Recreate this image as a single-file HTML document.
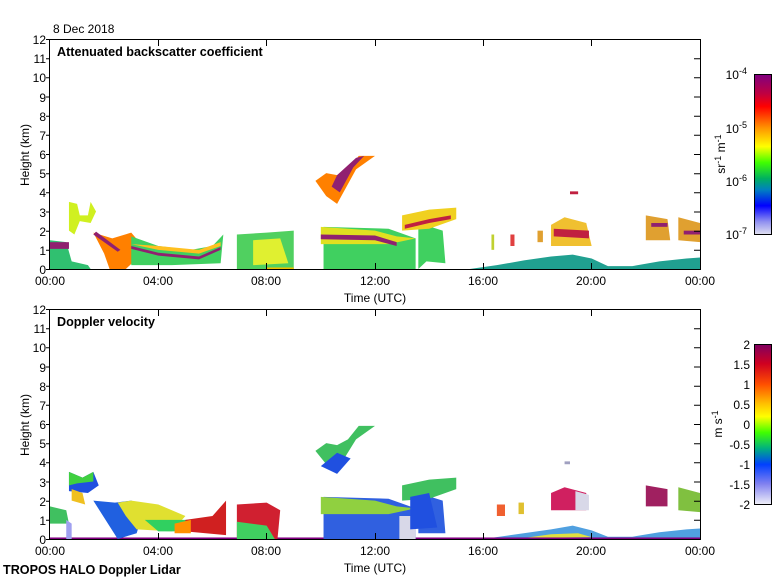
<!DOCTYPE html>
<html><head><meta charset="utf-8"><style>
body{margin:0;background:#fff;}
svg{display:block;font-family:"Liberation Sans",sans-serif;}
</style></head><body>
<svg width="780" height="580" viewBox="0 0 780 580">
<defs>
<linearGradient id="cb1" x1="0" y1="0" x2="0" y2="1">
<stop offset="0" stop-color="#800080"/><stop offset="0.12" stop-color="#c00040"/><stop offset="0.2" stop-color="#ff0000"/><stop offset="0.33" stop-color="#ff9000"/><stop offset="0.45" stop-color="#ffff00"/><stop offset="0.55" stop-color="#40ff00"/><stop offset="0.65" stop-color="#00b060"/><stop offset="0.72" stop-color="#0080c0"/><stop offset="0.82" stop-color="#0000ff"/><stop offset="0.92" stop-color="#9090f0"/><stop offset="1" stop-color="#e0e0f0"/>
</linearGradient>
<linearGradient id="cb2" x1="0" y1="0" x2="0" y2="1">
<stop offset="0" stop-color="#800060"/><stop offset="0.12" stop-color="#d00020"/><stop offset="0.25" stop-color="#ff5000"/><stop offset="0.37" stop-color="#ffc000"/><stop offset="0.45" stop-color="#ffff00"/><stop offset="0.55" stop-color="#40ff00"/><stop offset="0.65" stop-color="#00b080"/><stop offset="0.75" stop-color="#0040ff"/><stop offset="0.87" stop-color="#8080f0"/><stop offset="1" stop-color="#f0f0f8"/>
</linearGradient>
</defs>

<text x="53" y="33" font-size="12">8 Dec 2018</text>

<!-- TOP PANEL DATA -->
<g transform="translate(50,269) scale(27.083,-19.167)">
<polygon fill="#20a090" points="15.5,0 16.5,0.2 17.5,0.45 18.5,0.65 19.3,0.75 20,0.55 20.6,0.15 21.5,0.15 22.5,0.4 23.5,0.55 24,0.6 24,0"/>
<polygon fill="#30c070" points="0,0 0,1.5 0.6,1.4 0.8,0.4 1.4,0.2 1.5,0"/>
<rect x="0" y="1.05" width="0.7" height="0.35" fill="#902070"/>
<polygon fill="#d0f020" points="0.7,2 0.7,3.5 1.0,3.4 1.1,2.8 1.4,2.8 1.5,3.5 1.7,3.0 1.5,2.4 1.1,2.5 0.9,1.8"/>
<polygon fill="#ff8000" points="1.6,1.9 2.3,1.6 3.0,1.9 3.3,1.4 3.1,0.4 2.8,0 2.2,0 2.0,0.8"/>
<polygon fill="#902070" points="1.6,1.8 2.5,0.9 2.6,1.0 1.7,1.95"/>
<polygon fill="#40d060" points="3.0,0.2 3.0,1.7 4.0,1.2 5.2,1.0 6.0,1.2 6.4,1.8 6.3,0.3 4.5,0.2"/>
<polygon fill="#ffc020" points="3.0,1.3 4.0,1.0 5.5,0.8 6.3,1.2 6.3,1.4 5.5,1.0 4.0,1.2"/>
<polygon fill="#902070" points="3.0,1.05 4.0,0.7 5.5,0.5 6.3,1.0 6.3,1.15 5.5,0.65 4.0,0.85 3.0,1.2"/>
<polygon fill="#50d060" points="6.9,0 6.9,1.8 8.0,1.9 9.0,2.0 9.0,0"/>
<polygon fill="#e0f030" points="7.5,0.2 7.5,1.5 8.5,1.6 8.8,0.3"/>
<rect x="8" y="0" width="1" height="0.08" fill="#f0c000"/>
<polygon fill="#ff8000" points="9.8,4.6 10.2,5.0 10.6,4.9 11.0,5.2 11.4,5.9 12.0,5.9 11.3,5.2 10.6,3.4 10.2,3.8"/>
<polygon fill="#902070" points="10.4,4.3 10.6,4.9 11.3,5.8 11.6,5.9 11.2,5.3 10.7,4.0"/>
<polygon fill="#40d060" points="10.1,0 10.1,2.2 12.5,2.1 13.5,1.6 13.5,0"/>
<polygon fill="#40d060" points="13.6,0 13.6,2.4 14.5,2.0 14.6,0.3 13.9,0.4"/>
<polygon fill="#e0e020" points="10,1.3 10,2.2 12,2.0 12.8,1.7 13.5,1.6 12.5,1.3"/>
<polygon fill="#902070" points="10,1.55 12,1.5 12.8,1.2 12.8,1.4 12,1.75 10,1.8"/>
<polygon fill="#f0d020" points="13.0,2.0 13.0,2.8 14.0,3.1 15.0,3.2 15.0,2.6 14.0,2.1"/>
<polygon fill="#c02040" points="13.1,2.3 14.0,2.6 14.8,2.8 14.8,2.6 14.0,2.4 13.1,2.1"/>
<polygon fill="#f0c030" points="18.5,1.2 18.5,2.3 19.0,2.7 19.8,2.4 20.0,1.2"/>
<polygon fill="#c02040" points="18.6,1.7 19.9,1.6 19.9,2.0 18.6,2.1"/>
<polygon fill="#e0a030" points="22.0,1.5 22.0,2.8 22.8,2.6 22.9,1.5"/>
<polygon fill="#e0a030" points="23.2,1.5 23.2,2.7 24,2.4 24,1.4"/>
<rect x="22.2" y="2.2" width="0.6" height="0.2" fill="#902070"/>
<rect x="23.4" y="1.8" width="0.6" height="0.2" fill="#902070"/>
<rect x="16.3" y="1.0" width="0.1" height="0.8" fill="#c0d030"/>
<rect x="17.0" y="1.2" width="0.15" height="0.6" fill="#e04040"/>
<rect x="18.0" y="1.4" width="0.2" height="0.6" fill="#e0a030"/>
<rect x="19.2" y="3.9" width="0.3" height="0.15" fill="#c02040"/>
</g>

<!-- BOTTOM PANEL DATA -->
<g transform="translate(50,539) scale(27.083,-19.167)">
<polygon fill="#50a0e0" points="16,0 17,0.2 18.5,0.5 19.3,0.7 20,0.45 20.6,0.12 21.5,0.12 22.5,0.35 23.5,0.5 24,0.55 24,0"/>
<polygon fill="#e0e040" points="17.5,0.05 18.5,0.25 19.5,0.3 20,0.1"/>
<rect x="0" y="0" width="24" height="0.08" fill="#800080"/>
<polygon fill="#40c060" points="0,0.8 0,1.7 0.6,1.5 0.7,0.8"/>
<polygon fill="#a0a0f0" points="0.6,0 0.6,1 0.8,0.8 0.8,0"/>
<polygon fill="#2050e0" points="0.7,2.5 0.7,3.5 1.2,3.2 1.6,3.5 1.8,2.8 1.4,2.4"/>
<polygon fill="#40d040" points="0.7,2.8 0.7,3.5 1.2,3.2 1.6,3.5 1.6,3.0 1.0,2.9"/>
<polygon fill="#f0c020" points="0.8,2.0 0.8,2.6 1.2,2.4 1.3,1.8"/>
<polygon fill="#2060e0" points="1.6,2.0 2.4,1.9 3.0,2.0 3.5,1.7 3.2,0.3 2.5,0"/>
<polygon fill="#e0e030" points="2.5,1.9 3.0,2.0 4.0,1.8 5.0,1.2 4.5,0.4 3.2,0.5 2.8,1.2"/>
<polygon fill="#30d060" points="3.5,1.0 4.5,1.0 5.2,1.0 5.2,0.4 4,0.4"/>
<polygon fill="#d02020" points="5.0,0.4 5.0,1.0 6.0,1.2 6.5,2.0 6.5,0.2"/>
<polygon fill="#ff9000" points="4.6,0.3 4.6,0.8 5.2,1.0 5.2,0.3"/>
<polygon fill="#d02030" points="6.9,0 6.9,1.8 8.0,1.9 8.5,1.5 8.4,0"/>
<polygon fill="#40d060" points="6.9,0 6.9,0.9 8.0,0.7 8.3,0"/>
<polygon fill="#40c060" points="9.8,4.6 10.2,5.0 10.6,4.9 11.0,5.2 11.4,5.9 12.0,5.9 11.3,5.2 10.6,3.6 10.2,3.9"/>
<polygon fill="#2050e0" points="10,3.8 10.6,3.4 11.1,4.2 10.6,4.5"/>
<polygon fill="#3060e0" points="10.1,0 10.1,2.2 12.5,2.1 13.5,1.6 13.5,0"/>
<polygon fill="#3060e0" points="13.6,0.3 13.6,2.4 14.5,2.0 14.6,0.3"/>
<polygon fill="#90d040" points="10,1.3 10,2.2 12,2.0 12.8,1.7 13.5,1.6 12.5,1.3"/>
<polygon fill="#d8d8e8" points="12.9,0 12.9,1.2 13.5,1.2 13.5,0"/>
<polygon fill="#40c060" points="13.0,2.0 13.0,2.8 14.0,3.1 15.0,3.2 15.0,2.6 14.0,2.1"/>
<polygon fill="#2050e0" points="13.3,0.5 13.3,2.2 14.0,2.4 14.3,0.6"/>
<polygon fill="#d02060" points="18.5,1.5 18.5,2.4 19.0,2.7 19.8,2.4 19.8,1.5"/>
<polygon fill="#d8d8e8" points="19.4,1.5 19.4,2.5 19.9,2.3 19.9,1.5"/>
<polygon fill="#a02060" points="22.0,1.7 22.0,2.8 22.8,2.6 22.8,1.7"/>
<polygon fill="#80c040" points="23.2,1.5 23.2,2.7 24,2.4 24,1.4"/>
<rect x="16.5" y="1.2" width="0.3" height="0.6" fill="#f06030"/>
<rect x="17.3" y="1.3" width="0.2" height="0.6" fill="#e0c030"/>
<rect x="19.0" y="3.9" width="0.2" height="0.15" fill="#a0a0c0"/>
</g>

<!-- AXES -->
<g stroke="#000" stroke-width="1" fill="none">
<rect x="49.5" y="39.5" width="651" height="230"/>
<rect x="49.5" y="309.5" width="651" height="230"/>
<path id="tk" d="M50,269.5h-4M50,250.3h-4M50,231.2h-4M50,212h-4M50,192.8h-4M50,173.7h-4M50,154.5h-4M50,135.3h-4M50,116.2h-4M50,97h-4M50,77.8h-4M50,58.7h-4M50,39.5h-4
M700,250.3h-6M700,231.2h-6M700,212h-6M700,192.8h-6M700,173.7h-6M700,154.5h-6M700,135.3h-6M700,116.2h-6M700,97h-6M700,77.8h-6M700,58.7h-6
M158.5,269v-6M266.5,269v-6M375.5,269v-6M483.5,269v-6M591.5,269v-6M158.5,40v6M266.5,40v6M375.5,40v6M483.5,40v6M591.5,40v6"/>
<use href="#tk" y="270"/>
<rect x="754.5" y="74.5" width="17" height="160" fill="url(#cb1)"/>
<rect x="754.5" y="344.5" width="17" height="160" fill="url(#cb2)"/>
</g>

<g font-size="12" text-anchor="end">
<text x="46" y="274">0</text><text x="46" y="255">1</text><text x="46" y="236">2</text><text x="46" y="217">3</text><text x="46" y="197">4</text><text x="46" y="178">5</text><text x="46" y="159">6</text><text x="46" y="140">7</text><text x="46" y="121">8</text><text x="46" y="102">9</text><text x="46" y="82">10</text><text x="46" y="63">11</text><text x="46" y="44">12</text>
<text x="46" y="544">0</text><text x="46" y="525">1</text><text x="46" y="506">2</text><text x="46" y="487">3</text><text x="46" y="467">4</text><text x="46" y="448">5</text><text x="46" y="429">6</text><text x="46" y="410">7</text><text x="46" y="391">8</text><text x="46" y="372">9</text><text x="46" y="352">10</text><text x="46" y="333">11</text><text x="46" y="314">12</text>
</g>
<g font-size="12" text-anchor="middle">
<text x="50" y="285">00:00</text><text x="158" y="285">04:00</text><text x="266" y="285">08:00</text><text x="375" y="285">12:00</text><text x="483" y="285">16:00</text><text x="591" y="285">20:00</text><text x="700" y="285">00:00</text>
<text x="375" y="302">Time (UTC)</text>
<text x="50" y="555">00:00</text><text x="158" y="555">04:00</text><text x="266" y="555">08:00</text><text x="375" y="555">12:00</text><text x="483" y="555">16:00</text><text x="591" y="555">20:00</text><text x="700" y="555">00:00</text>
<text x="375" y="572">Time (UTC)</text>
<text transform="translate(29,155) rotate(-90)">Height (km)</text>
<text transform="translate(29,425) rotate(-90)">Height (km)</text>
<text transform="translate(725,154) rotate(-90)">sr<tspan dy="-4" font-size="9">-1</tspan><tspan dy="4"> m</tspan><tspan dy="-4" font-size="9">-1</tspan></text>
<text transform="translate(722,424) rotate(-90)">m s<tspan dy="-4" font-size="9">-1</tspan></text>
</g>
<g font-size="12.6" font-weight="bold">
<text x="57" y="56">Attenuated backscatter coefficient</text>
<text x="57" y="326">Doppler velocity</text>
<text x="3" y="574">TROPOS HALO Doppler Lidar</text>
</g>
<g font-size="12" text-anchor="end">
<text x="747" y="79">10<tspan dy="-5" font-size="9">-4</tspan></text>
<text x="747" y="133">10<tspan dy="-5" font-size="9">-5</tspan></text>
<text x="747" y="186">10<tspan dy="-5" font-size="9">-6</tspan></text>
<text x="747" y="239">10<tspan dy="-5" font-size="9">-7</tspan></text>
<text x="750" y="349">2</text><text x="750" y="369">1.5</text><text x="750" y="389">1</text><text x="750" y="409">0.5</text><text x="750" y="429">0</text><text x="750" y="449">-0.5</text><text x="750" y="469">-1</text><text x="750" y="489">-1.5</text><text x="750" y="509">-2</text>
</g>
</svg>
</body></html>
